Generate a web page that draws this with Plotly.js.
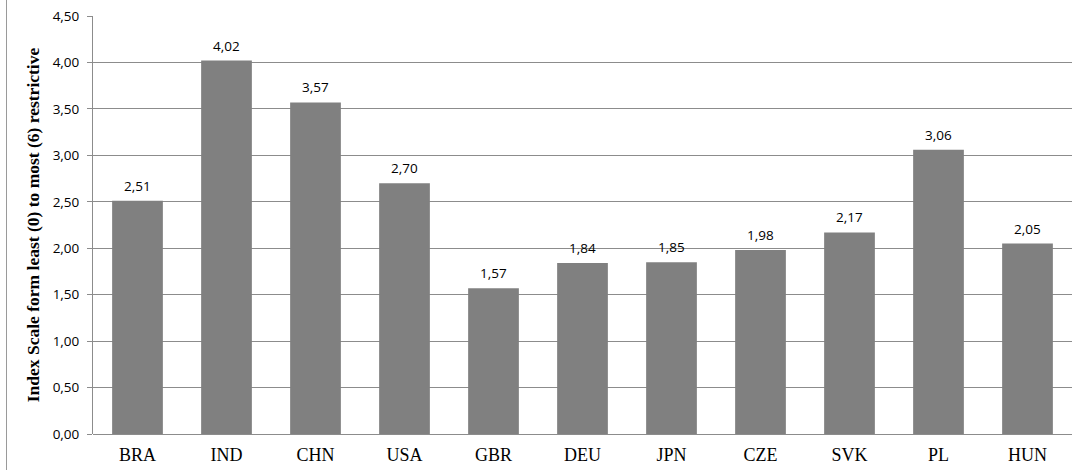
<!DOCTYPE html>
<html>
<head>
<meta charset="utf-8">
<script src="https://cdn.plot.ly/plotly-3.0.1.min.js"></script>
<style>
html,body{margin:0;padding:0;background:#fff;}
#wrap{position:absolute;left:0;top:0;width:1091px;height:470px;}
#frame{position:absolute;left:6px;top:0;width:1px;height:470px;background:#9a9a9a;}
#chart{position:absolute;left:0;top:0;width:1091px;height:470px;}
</style>
</head>
<body>
<div id="wrap"><div id="chart"></div><div id="frame"></div></div>
<script>
var categories = ['BRA','IND','CHN','USA','GBR','DEU','JPN','CZE','SVK','PL','HUN'];
var values = [2.51, 4.02, 3.57, 2.70, 1.57, 1.84, 1.85, 1.98, 2.17, 3.06, 2.05];
var yTickVals = [0, 0.5, 1, 1.5, 2, 2.5, 3, 3.5, 4, 4.5];
var yTickText = ['0,00','0,50','1,00','1,50','2,00','2,50','3,00','3,50','4,00','4,50'];
var yTitle = 'Index Scale form least (0) to most (6) restrictive';

var labelAnn = categories.map(function(c, i){
  return {
    x: c, y: values[i], xref: 'x', yref: 'y',
    text: values[i].toFixed(2).replace('.', ','),
    showarrow: false, yanchor: 'bottom', yshift: 4,
    font: {family: 'Open Sans, sans-serif', size: 13.5, color: '#000'}
  };
});

var trace = {
  type: 'bar', x: categories, y: values,
  marker: {color: '#808080', line: {width: 0}},
  hoverinfo: 'none'
};

var layout = {
  width: 1091, height: 470,
  margin: {l: 93, r: 19, t: 16, b: 36, pad: 0},
  paper_bgcolor: 'rgba(0,0,0,0)', plot_bgcolor: '#fff',
  showlegend: false,
  bargap: 0.43,
  separators: ',.',
  xaxis: {
    type: 'category',
    showgrid: false, zeroline: false,
    showline: false,
    ticks: '', ticklabelstandoff: 8,
    tickfont: {family: 'Liberation Serif, Times New Roman, serif', size: 18, color: '#000'}
  },
  yaxis: {
    range: [0, 4.5],
    tickvals: yTickVals, ticktext: yTickText,
    showgrid: true, gridcolor: '#8c8c8c', gridwidth: 1,
    zeroline: true, zerolinecolor: '#8c8c8c', zerolinewidth: 1,
    showline: true, linecolor: '#8c8c8c', linewidth: 1,
    ticks: 'outside', ticklen: 5, tickcolor: '#8c8c8c',
    ticklabelstandoff: 5,
    tickfont: {family: 'Open Sans, sans-serif', size: 13.5, color: '#000'},
    title: {text: yTitle, standoff: 8,
      font: {family: 'Liberation Serif, Times New Roman, serif', size: 17.5, color: '#000', weight: 'bold'}}
  },
  annotations: labelAnn
};

Plotly.newPlot('chart', [trace], layout, {displayModeBar: false, staticPlot: true});
</script>
</body>
</html>
